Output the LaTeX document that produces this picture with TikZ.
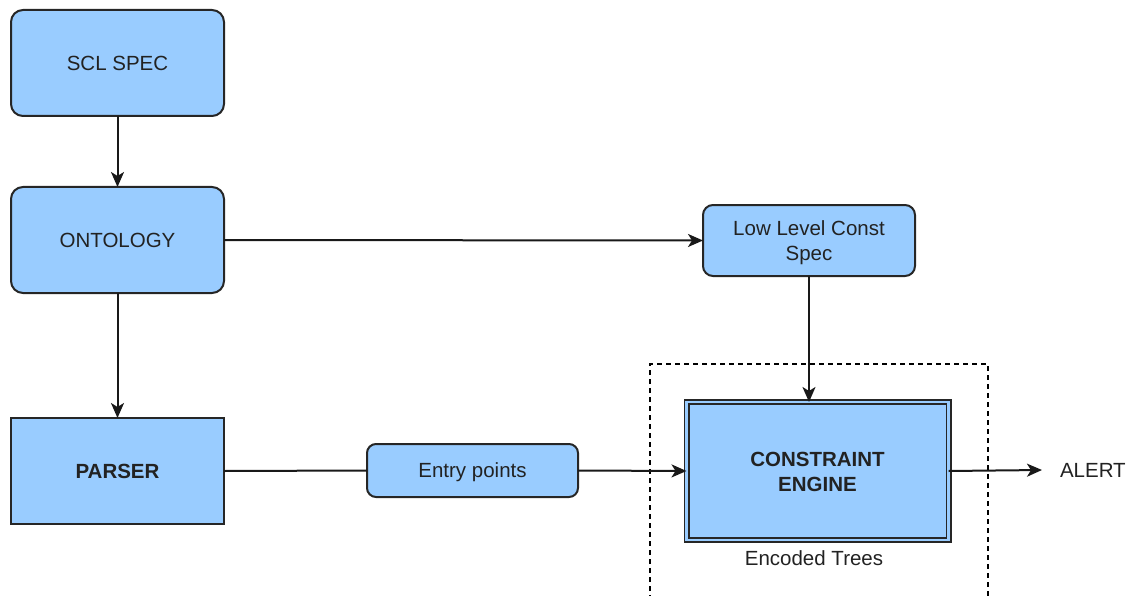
\documentclass[tikz,border=0pt]{standalone}
\usepackage{fontspec}
\setmainfont{Liberation Sans}
\usetikzlibrary{arrows.meta}
\definecolor{boxfill}{HTML}{99CCFF}
\definecolor{txt}{HTML}{222222}
\begin{document}
\begin{tikzpicture}[x=1pt,y=-1pt,
  every node/.style={inner sep=0pt, outer sep=0pt, font=\fontsize{20.5}{25}\selectfont, text=txt, text height=14.7pt, text depth=0pt},
  twoline/.style={text height=40.7pt, text depth=0pt},
  rbox/.style={draw=black!85, fill=boxfill, line width=2pt, rounded corners=12pt, align=center},
  sbox/.style={draw=black!85, fill=boxfill, line width=2pt, align=center},
  conn/.style={line width=2pt, draw=black!90},
  arr/.style={conn, -{Stealth[length=15pt,width=13pt,inset=4pt]}}
]
\useasboundingbox (0,0) rectangle (1134,596);
% dashed group
\draw[line width=1.4pt, dash pattern=on 5pt off 4pt] (650,600) -- (650,364) -- (988,364) -- (988,600);
\node[rbox, minimum width=213pt, minimum height=106pt] (scl) at (117.5,63) {SCL SPEC};
\node[rbox, minimum width=213pt, minimum height=106pt] (ont) at (117.5,240) {ONTOLOGY};
\node[sbox, minimum width=213pt, minimum height=106pt, font=\fontsize{20.5}{25}\selectfont\bfseries] (par) at (117.5,471) {PARSER};
\node[rbox, twoline, rounded corners=10pt, minimum width=212pt, minimum height=71pt] (llc) at (809,240.5) {Low Level Const\\Spec};
\node[rbox, rounded corners=9pt, minimum width=211pt, minimum height=53pt] (ent) at (472.5,470.5) {Entry points};
\node[sbox, twoline, double=boxfill, double distance=2.4pt, line width=1.8pt, minimum width=262pt, minimum height=138pt, font=\fontsize{20.5}{25}\selectfont\bfseries] (ce) at (817.5,471) {CONSTRAINT\\ENGINE};
\node (enc) at (814,558) {Encoded Trees};
\node[anchor=west] (alert) at (1060,470) {ALERT};
\coordinate (alertin) at (1042,470);
\draw[arr] (scl) -- (ont);
\draw[arr] (ont.south) -- (par.north);
\draw[arr] (ont.east) -- (llc.west);
\draw[arr] (llc.south) -- (llc.south |- ce.north);
\draw[conn] (par.east) -- (ent.west);
\draw[arr] (ent.east) -- (ce.west);
\draw[arr] (ce.east) -- (alertin);
\end{tikzpicture}
\end{document}
